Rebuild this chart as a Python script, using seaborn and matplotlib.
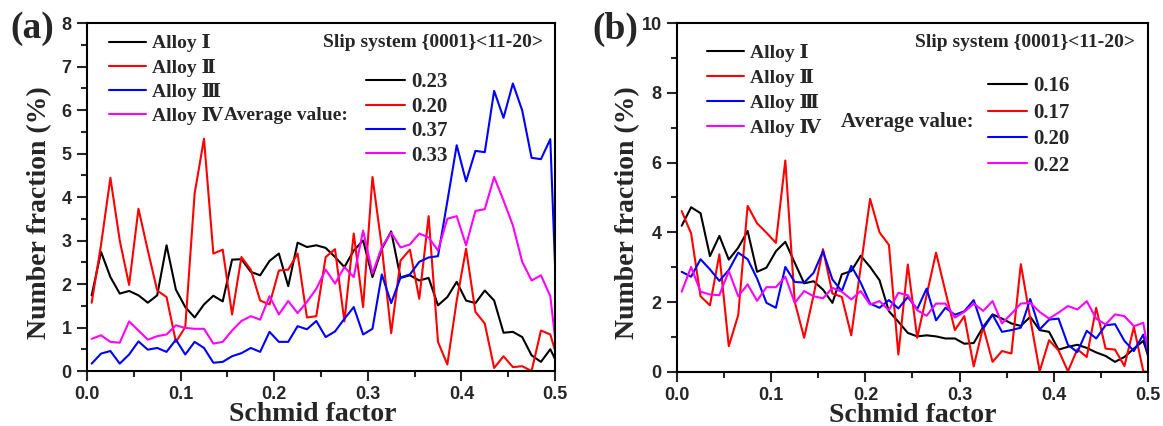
import numpy as np
import pandas as pd
import seaborn as sns
from matplotlib import pyplot as plt
from matplotlib.ticker import MultipleLocator

# schmid factor bins (centres) + end point at 0.5
schmid = list(np.round(np.arange(0.005, 0.5, 0.01), 3)) + [0.5]

alloys = ['Alloy Ⅰ', 'Alloy Ⅱ', 'Alloy Ⅲ', 'Alloy Ⅳ']
colors = ['black', 'red', 'blue', 'magenta']

# panel (a)
a_alloy1 = [1.74, 2.74, 2.16, 1.78, 1.84, 1.74, 1.57, 1.74, 2.89, 1.87,
            1.47, 1.23, 1.53, 1.73, 1.60, 2.56, 2.57, 2.28, 2.20, 2.53,
            2.70, 1.95, 2.95, 2.85, 2.89, 2.83, 2.62, 2.39, 2.77, 3.00,
            2.16, 2.81, 3.21, 2.14, 2.20, 2.08, 2.14, 1.51, 1.70, 2.05,
            1.62, 1.56, 1.85, 1.62, 0.88, 0.90, 0.78, 0.36, 0.21, 0.50, 0.28]
a_alloy2 = [1.57, 2.90, 4.44, 3.00, 1.98, 3.73, 2.77, 1.85, 1.70, 0.67,
            1.01, 4.08, 5.34, 2.70, 2.79, 1.30, 2.62, 2.33, 1.62, 1.53,
            2.31, 2.33, 2.70, 1.23, 1.26, 2.62, 2.80, 1.14, 3.16, 1.47,
            4.46, 2.85, 0.87, 2.54, 2.79, 1.66, 3.56, 0.67, 0.15, 1.62,
            2.81, 1.36, 1.09, 0.07, 0.34, 0.09, 0.11, 0.00, 0.93, 0.84, 0.48]
a_alloy3 = [0.17, 0.40, 0.46, 0.17, 0.38, 0.68, 0.49, 0.53, 0.44, 0.72,
            0.38, 0.67, 0.53, 0.19, 0.21, 0.34, 0.41, 0.53, 0.44, 0.90,
            0.67, 0.67, 1.03, 0.96, 1.15, 0.78, 0.91, 1.20, 1.47, 0.84,
            0.97, 2.22, 1.56, 2.15, 2.22, 2.51, 2.61, 2.64, 3.90, 5.19,
            4.36, 5.06, 5.03, 6.44, 5.82, 6.61, 5.99, 4.90, 4.87, 5.33, 2.47]
a_alloy4 = [0.74, 0.82, 0.67, 0.65, 1.14, 0.93, 0.72, 0.80, 0.84, 1.05,
            0.99, 0.97, 0.97, 0.63, 0.67, 0.93, 1.15, 1.26, 1.18, 1.72,
            1.30, 1.61, 1.33, 1.59, 1.89, 2.33, 2.01, 2.39, 2.16, 3.23,
            2.24, 2.85, 3.18, 2.84, 2.91, 3.16, 3.07, 2.77, 3.50, 3.56,
            2.89, 3.68, 3.72, 4.46, 3.92, 3.35, 2.51, 2.08, 2.20, 1.72, 0.78]
a_avg = ['0.23', '0.20', '0.37', '0.33']

# panel (b)
b_alloy1 = [4.19, 4.72, 4.55, 3.32, 3.90, 3.22, 3.56, 4.04, 2.87, 2.99,
            3.46, 3.73, 3.13, 2.54, 2.60, 2.36, 1.98, 2.80, 2.89, 3.33,
            3.01, 2.63, 1.74, 1.44, 1.12, 1.02, 1.05, 1.02, 0.96, 0.96,
            0.81, 0.83, 1.29, 1.65, 1.53, 1.39, 1.32, 1.58, 1.20, 1.15,
            0.64, 0.72, 0.78, 0.69, 0.56, 0.46, 0.29, 0.43, 0.67, 0.89, 0.48]
b_alloy2 = [4.61, 3.97, 2.17, 1.91, 3.37, 0.74, 1.63, 4.76, 4.26, 3.99,
            3.70, 6.06, 2.01, 0.98, 2.20, 3.52, 2.25, 2.15, 1.05, 3.00,
            4.96, 4.00, 3.64, 0.50, 3.08, 0.98, 2.20, 3.42, 2.30, 1.20,
            1.60, 0.16, 1.29, 0.29, 0.60, 0.53, 3.09, 1.53, 0.02, 0.91,
            0.62, 0.02, 0.65, 0.43, 1.84, 0.67, 0.64, 0.17, 1.29, 0.02, 0.00]
b_alloy3 = [2.87, 2.73, 3.23, 2.94, 2.61, 2.92, 3.42, 3.23, 2.68, 1.98,
            1.84, 3.01, 2.58, 2.56, 2.84, 3.46, 2.65, 2.32, 3.04, 2.56,
            1.96, 1.84, 2.06, 1.82, 2.15, 1.80, 2.39, 1.48, 1.84, 1.64,
            1.74, 2.06, 1.24, 1.64, 1.15, 1.20, 1.27, 2.09, 1.22, 1.50,
            1.53, 0.78, 0.57, 1.18, 0.96, 1.34, 1.37, 0.89, 0.60, 1.07, 0.48]
b_alloy4 = [2.30, 3.01, 2.30, 2.22, 2.20, 2.89, 2.17, 2.51, 2.04, 2.43,
            2.43, 2.73, 1.98, 2.32, 2.17, 2.11, 2.41, 2.30, 2.08, 2.32,
            1.93, 2.03, 1.77, 2.27, 2.20, 1.77, 1.61, 1.96, 1.96, 1.56,
            1.72, 1.96, 1.75, 2.03, 1.39, 1.67, 1.96, 1.98, 1.72, 1.53,
            1.70, 1.89, 1.79, 2.03, 1.53, 1.36, 1.65, 1.60, 1.31, 1.41, 0.62]
b_avg = ['0.16', '0.17', '0.20', '0.22']


def make_df(series):
    rows = []
    for name, vals in zip(alloys, series):
        rows.append(pd.DataFrame({'schmid': schmid, 'fraction': vals, 'alloy': name}))
    return pd.concat(rows, ignore_index=True)


sns.set_style("ticks")
serif = ['Liberation Serif', 'DejaVu Serif', 'Noto Sans CJK SC']
plt.rcParams['font.family'] = serif
plt.rcParams['font.weight'] = 'bold'

fig = plt.figure(figsize=(11.63, 4.26), dpi=100)
ax_a = fig.add_axes([0.0748, 0.1291, 0.4024, 0.8169])
ax_b = fig.add_axes([0.5821, 0.1268, 0.4050, 0.8192])

panels = [
    (ax_a, [a_alloy1, a_alloy2, a_alloy3, a_alloy4], a_avg, 8, 1, '(a)', 0.0086,
     dict(l1=(0.047, 0.967), ls1=0.32, avg=(0.293, 0.733), avgsize=14,
          slip=(0.974, 0.945), l2=(0.596, 0.858), ls2=0.21, xlab=0.482, ylab=(-0.075, 0.455))),
    (ax_b, [b_alloy1, b_alloy2, b_alloy3, b_alloy4], b_avg, 10, 2, '(b)', 0.509,
     dict(l1=(0.064, 0.941), ls1=0.37, avg=(0.349, 0.716), avgsize=15,
          slip=(0.972, 0.943), l2=(0.660, 0.847), ls2=0.31, xlab=0.5, ylab=(-0.079, 0.456))),
]

for ax, series, avg, ymax, ystep, tag, tagx, pos in panels:
    df = make_df(series)
    sns.lineplot(data=df, x='schmid', y='fraction', hue='alloy', palette=colors,
                 linewidth=1.5, legend=False, ax=ax)
    ax.set_xlim(0, 0.5)
    ax.set_ylim(0, ymax)
    ax.xaxis.set_major_locator(MultipleLocator(0.1))
    ax.xaxis.set_minor_locator(MultipleLocator(0.05))
    ax.yaxis.set_major_locator(MultipleLocator(ystep))
    ax.yaxis.set_minor_locator(MultipleLocator(ystep / 2))
    ax.tick_params(which='major', direction='out', length=7, width=1.5, pad=4)
    ax.tick_params(which='minor', direction='out', length=4, width=1.5)
    for sp in ax.spines.values():
        sp.set_linewidth(1.5)
        sp.set_color('black')
    ax.xaxis.set_major_formatter(plt.FormatStrFormatter('%.1f'))
    for lab in ax.get_xticklabels() + ax.get_yticklabels():
        lab.set_fontfamily('Liberation Sans')
        lab.set_fontweight('bold')
        lab.set_fontsize(13)

    ax.set_xlabel('Schmid factor', fontsize=20, fontweight='bold')
    ax.set_ylabel('Number fraction (%)', fontsize=20, fontweight='bold')
    ax.xaxis.set_label_coords(pos['xlab'], -0.088)
    ax.yaxis.set_label_coords(*pos['ylab'])

    lines = ax.lines[:4]
    leg1 = ax.legend(lines, alloys, loc='upper left', bbox_to_anchor=pos['l1'],
                     frameon=False, borderpad=0, borderaxespad=0, handlelength=1.9,
                     handletextpad=0.3, labelspacing=pos['ls1'],
                     prop={'family': serif, 'weight': 'bold', 'size': 14})
    ax.add_artist(leg1)
    ax.legend(lines, avg, loc='upper left', bbox_to_anchor=pos['l2'],
              frameon=False, borderpad=0, borderaxespad=0, handlelength=1.9,
              handletextpad=0.3, labelspacing=pos['ls2'],
              prop={'family': serif, 'weight': 'bold', 'size': 15})
    ax.text(pos['avg'][0], pos['avg'][1], 'Average value:', transform=ax.transAxes,
            fontsize=pos['avgsize'], fontweight='bold', va='center', ha='left')
    ax.text(pos['slip'][0], pos['slip'][1], 'Slip system {0001}<11-20>', transform=ax.transAxes,
            fontsize=14, fontweight='bold', va='center', ha='right')
    fig.text(tagx, 0.932, tag, fontsize=27, fontweight='bold', va='center', ha='left')

fig.savefig('out.png', dpi=100)
